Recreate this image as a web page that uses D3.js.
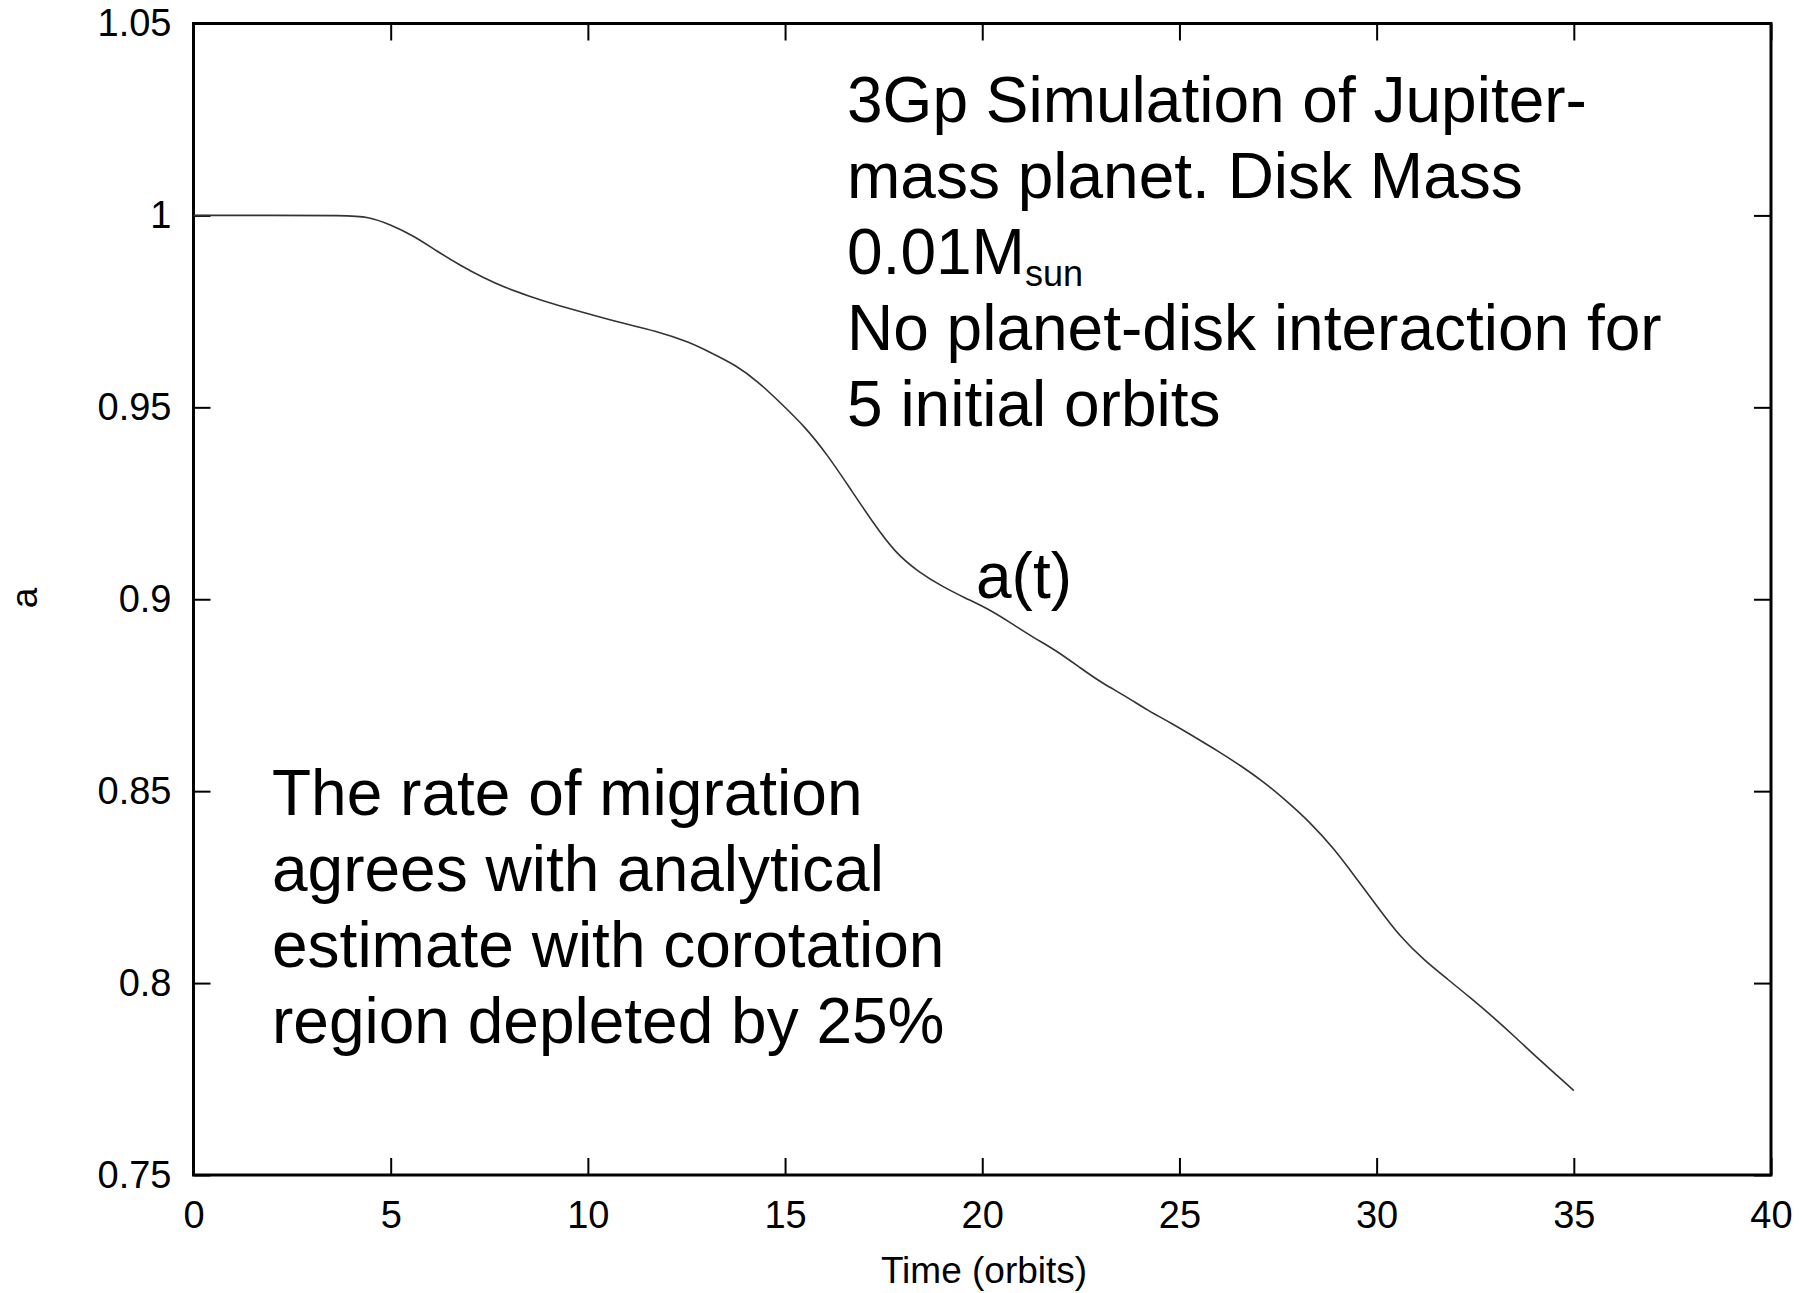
<!DOCTYPE html>
<meta charset="utf-8">
<style>
    body {
        margin: 0;
        background: #fff;
    }
    svg {
        font-family: "Liberation Sans", Arial, sans-serif;
    }
    .axis text {
        font-size: 38px;
        fill: #000;
    }
    .axis line {
        stroke: #000;
        stroke-width: 2;
    }
    .note {
        font-size: 64px;
        fill: #000;
    }
</style>
<body>
<script src="https://cdn.jsdelivr.net/npm/d3@7"></script>
<script>
    // time in orbits, semi-major axis a
    const timeOrbits = [0, 2, 3.85, 4.43, 5.0, 5.6, 6.17, 6.76, 7.34, 7.92, 8.5, 9.09, 9.96, 10.83,
        11.7, 12.58, 13.16, 13.75, 14.33, 14.9, 15.5, 16.07, 16.66, 17.24, 17.8, 18.4, 18.99,
        19.57, 20.15, 20.7, 21.3, 21.9, 22.5, 23.06, 23.6, 24.2, 24.8, 25.4, 25.97, 26.56,
        27.14, 27.7, 28.3, 28.9, 29.47, 30.05, 30.6, 31.2, 31.8, 32.4, 32.97, 33.55, 34.13, 35.0];
    const semiMajor = [1.0, 1.0, 1.0, 0.9997, 0.9976, 0.9946, 0.9907, 0.987, 0.9838, 0.9811, 0.979,
        0.977, 0.9745, 0.972, 0.970, 0.967, 0.964, 0.961, 0.9566, 0.951, 0.945, 0.9377, 0.9287,
        0.9198, 0.912, 0.907, 0.9033, 0.9003, 0.8975, 0.894, 0.890, 0.8865, 0.882, 0.878, 0.875,
        0.871, 0.8677, 0.864, 0.8605, 0.8566, 0.8524, 0.8476, 0.842, 0.8353, 0.8275, 0.8195,
        0.812, 0.806, 0.801, 0.796, 0.791, 0.7856, 0.78, 0.772];

    const xTicks = [0, 5, 10, 15, 20, 25, 30, 35, 40];
    const yTicks = [0.75, 0.8, 0.85, 0.9, 0.95, 1, 1.05];

    const topNote = ["3Gp Simulation of Jupiter-", "mass planet. Disk Mass", "0.01M", "No planet-disk interaction for", "5 initial orbits"];
    const bottomNote = ["The rate of migration", "agrees with analytical", "estimate with corotation", "region depleted by 25%"];

    const W = 1802, H = 1293;
    const margin = {top: 23.5, right: 31, bottom: 118, left: 193.5};
    const width = W - margin.left - margin.right;
    const height = H - margin.top - margin.bottom;

    const svg = d3.select("body").append("svg")
        .attr("width", W)
        .attr("height", H);

    const g = svg.append("g")
        .attr("transform", "translate(" + margin.left + "," + margin.top + ")");

    const x = d3.scaleLinear().domain([0, 40]).range([0, width]);
    const y = d3.scaleLinear().domain([0.75, 1.05]).range([height, 0]);

    const tick = 17;

    // bottom + left with labels, top + right mirrored ticks
    g.append("g").attr("class", "axis")
        .attr("transform", "translate(0," + height + ")")
        .call(d3.axisBottom(x).tickValues(xTicks).tickSizeInner(-tick).tickSizeOuter(0).tickPadding(26))
        .call(a => a.select(".domain").remove());

    g.append("g").attr("class", "axis")
        .call(d3.axisLeft(y).tickValues(yTicks).tickSizeInner(-tick).tickSizeOuter(0).tickPadding(22)
            .tickFormat(d => d3.format("")(+d.toFixed(2))))
        .call(a => a.select(".domain").remove());

    g.append("g").attr("class", "axis")
        .call(d3.axisTop(x).tickValues(xTicks).tickSizeInner(-tick).tickSizeOuter(0).tickFormat(""))
        .call(a => a.select(".domain").remove());

    g.append("g").attr("class", "axis")
        .attr("transform", "translate(" + width + ",0)")
        .call(d3.axisRight(y).tickValues(yTicks).tickSizeInner(-tick).tickSizeOuter(0).tickFormat(""))
        .call(a => a.select(".domain").remove());

    // frame
    g.append("rect")
        .attr("width", width)
        .attr("height", height)
        .attr("fill", "none")
        .attr("stroke", "#000")
        .attr("stroke-width", 3);

    const pts = timeOrbits.map((t, i) => [t, semiMajor[i]]);
    const line = d3.line()
        .x(d => x(d[0]))
        .y(d => y(d[1]))
        .curve(d3.curveBasis);

    g.append("path")
        .datum(pts)
        .attr("fill", "none")
        .attr("stroke", "#333")
        .attr("stroke-width", 1.6)
        .attr("d", line);

    // axis titles
    svg.append("text")
        .attr("x", 984)
        .attr("y", 1283)
        .attr("text-anchor", "middle")
        .style("font-size", "37px")
        .text("Time (orbits)");

    svg.append("text")
        .attr("transform", "translate(37,598) rotate(-90)")
        .attr("text-anchor", "middle")
        .style("font-size", "37px")
        .text("a");

    // annotations
    const lineH = 76;
    const tn = svg.append("text").attr("class", "note");
    topNote.forEach((s, i) => {
        tn.append("tspan").attr("x", 847).attr("y", 122 + i * lineH).text(s);
        if (i === 2) {
            tn.append("tspan").attr("dy", 12).style("font-size", "36px").text("sun");
        }
    });

    const bn = svg.append("text").attr("class", "note");
    bottomNote.forEach((s, i) => {
        bn.append("tspan").attr("x", 272).attr("y", 815 + i * lineH).text(s);
    });

    svg.append("text")
        .attr("class", "note")
        .attr("x", 976)
        .attr("y", 598)
        .text("a(t)");
</script>
</body>
</html>
